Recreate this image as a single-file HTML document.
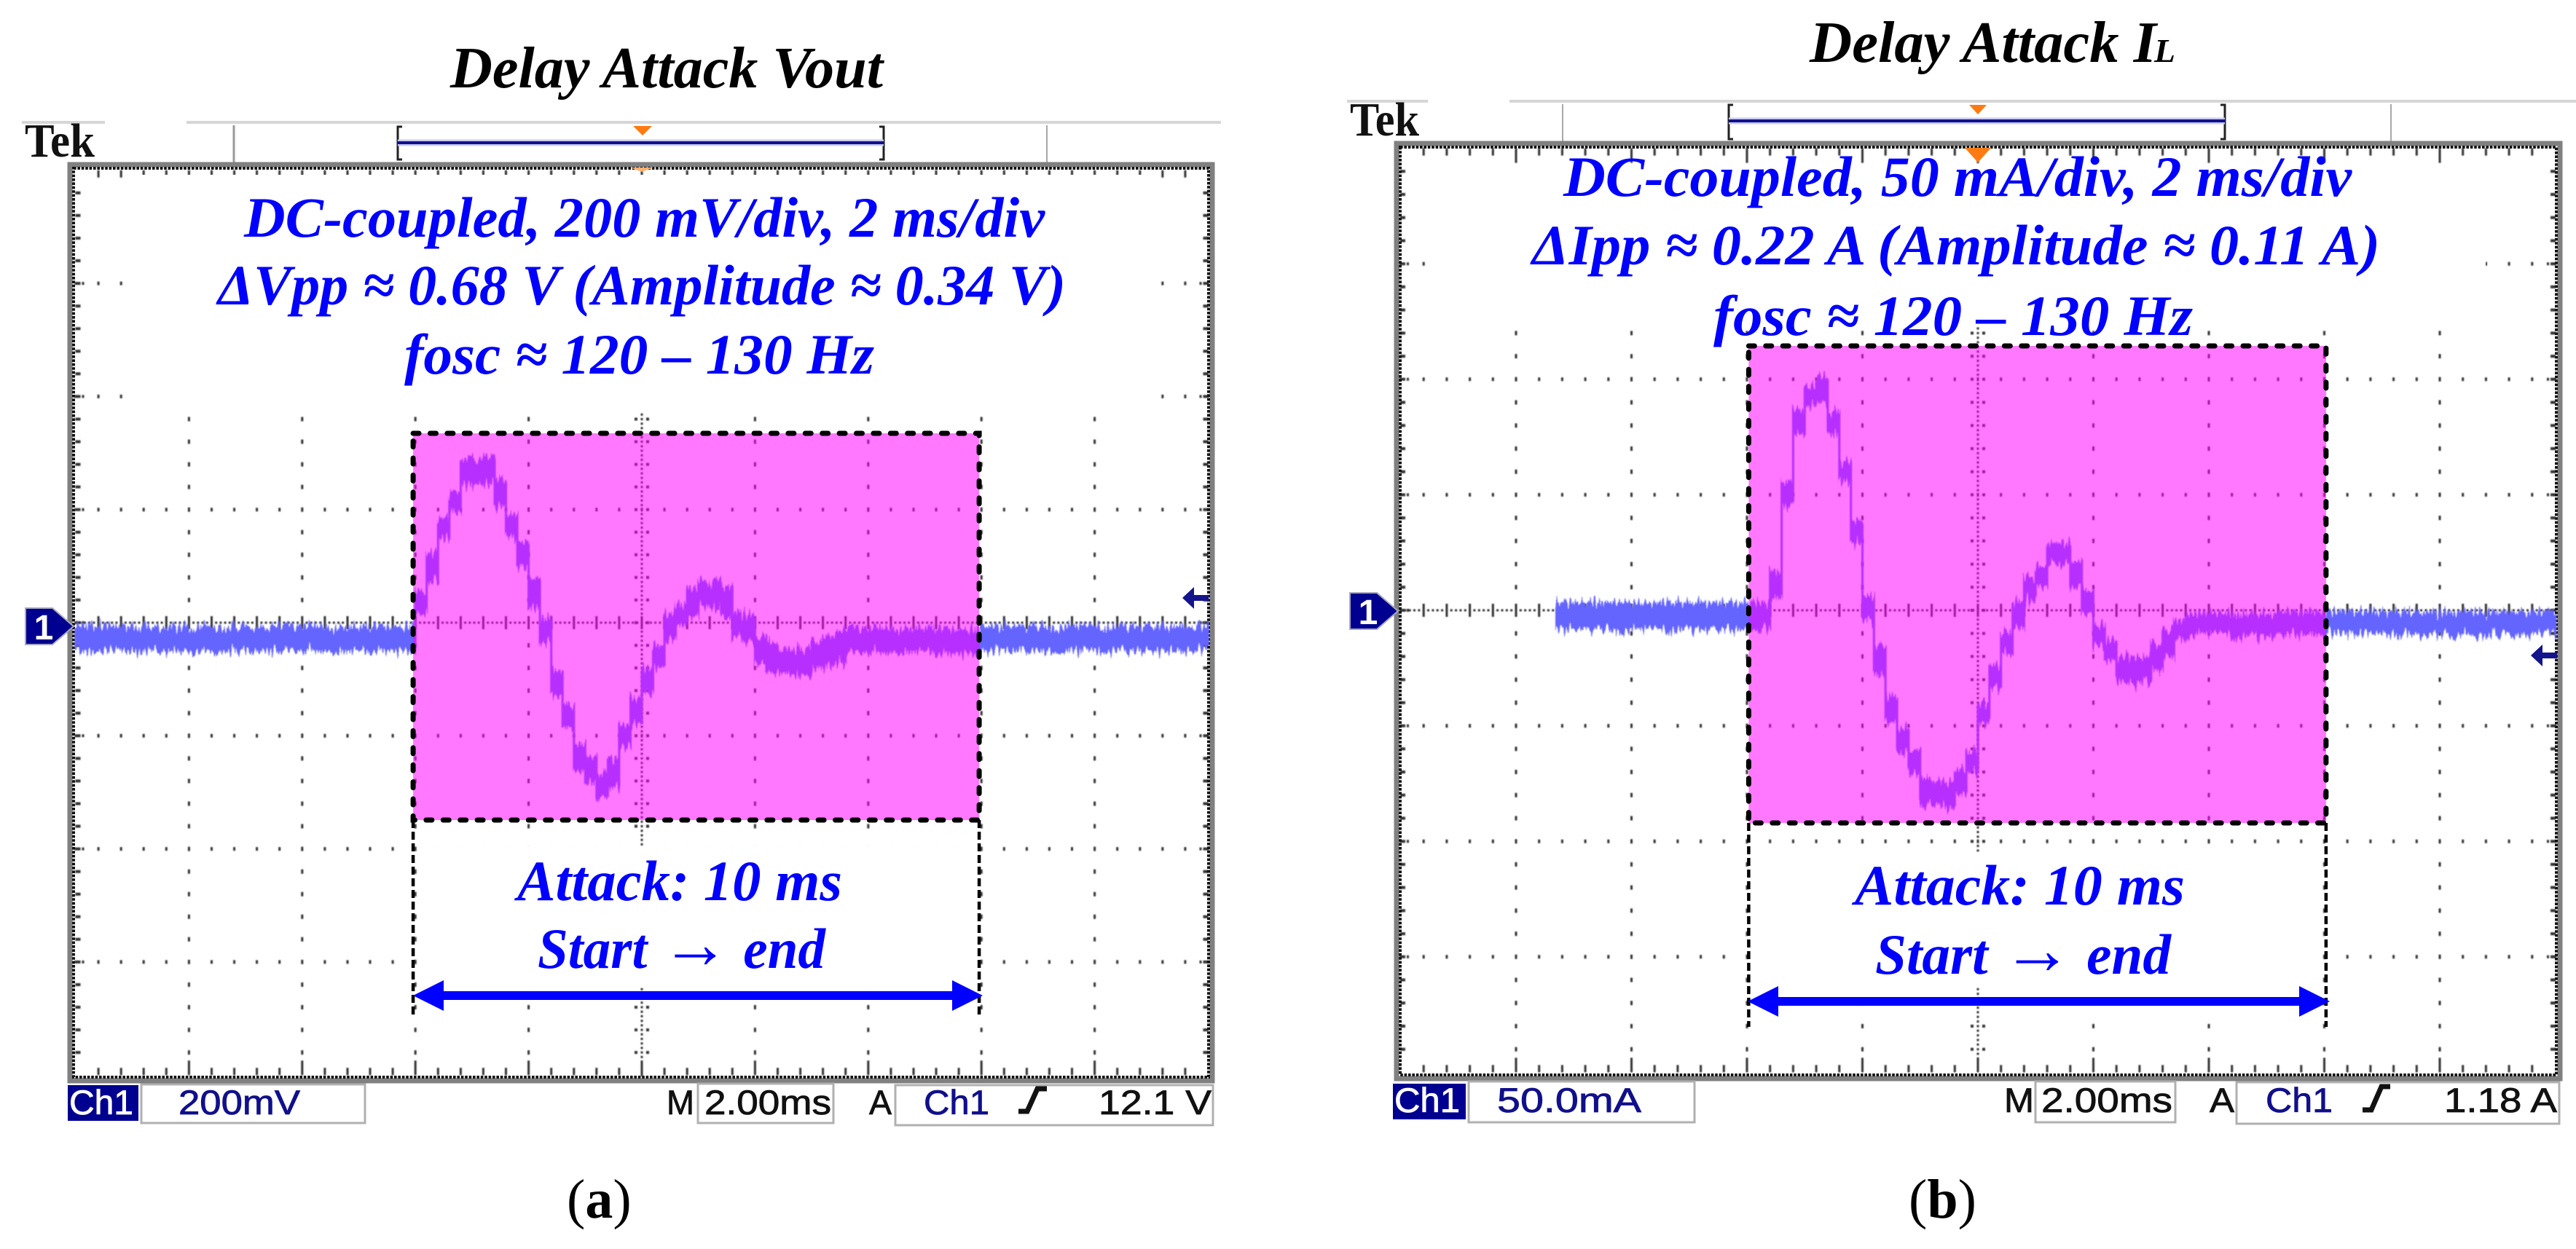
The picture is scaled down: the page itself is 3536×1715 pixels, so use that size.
<!DOCTYPE html>
<html lang="en">
<head>
<meta charset="utf-8">
<title>Delay Attack oscilloscope captures</title>
<style>
html,body{margin:0;padding:0;background:#fff;width:3536px;height:1715px;overflow:hidden}
svg{display:block}
.ann{font-family:"Liberation Serif",serif;font-weight:bold;font-style:italic;font-size:78px;fill:#0000ff}
.ttl{font-family:"Liberation Serif",serif;font-weight:bold;font-style:italic;font-size:80px;fill:#000}
.cap{font-family:"Liberation Serif",serif;font-size:76px;fill:#000}
.tek{font-family:"Liberation Serif",serif;font-weight:bold;font-size:66px;fill:#111}
.st{font-family:"Liberation Sans",sans-serif;font-size:47px;fill:#111;stroke:#111;stroke-width:.8px}
.nv{fill:#10108c;stroke:#10108c}
.wh{fill:#fff;stroke:#fff}
</style>
</head>
<body>
<svg id="root" xmlns="http://www.w3.org/2000/svg" width="3536" height="1715" viewBox="0 0 3536 1715">
<defs>
<filter id="fuzz" filterUnits="userSpaceOnUse" x="0" y="500" width="3536" height="800" color-interpolation-filters="sRGB">
<feTurbulence type="fractalNoise" baseFrequency="0.33 0.012" numOctaves="2" seed="4" result="n"/>
<feColorMatrix in="n" type="matrix" values="1 0 0 0 0  0 0 0 0 0.5  0 0 0 0 0.5  0 0 0 0 1" result="m"/>
<feDisplacementMap in="SourceGraphic" in2="m" scale="34" xChannelSelector="G" yChannelSelector="R" result="d"/>
<feGaussianBlur in="d" stdDeviation="0.8"/>
</filter>
<filter id="soft" filterUnits="userSpaceOnUse" x="0" y="0" width="3536" height="1715"><feGaussianBlur stdDeviation="0.7"/></filter>
</defs>
<rect width="3536" height="1715" fill="#fff"/>

<g id="panelA">
  <text class="ttl" x="618" y="120" textLength="594" lengthAdjust="spacingAndGlyphs">Delay Attack Vout</text>
  <g>
    <path d="M30 168H144M256 168H1676" stroke="#d6d6d6" stroke-width="4" fill="none"/>
    <path d="M321 172V224" stroke="#9a9a9a" stroke-width="3" fill="none"/>
    <path d="M1437 172V224" stroke="#a8a8a8" stroke-width="2" fill="none"/>
    <path d="M552 174H546V219H552M1207 174H1213V219H1207" stroke="#222" stroke-width="3" fill="none"/>
    <path d="M546 196H1213" stroke="#c8c8f0" stroke-width="9" fill="none"/>
    <path d="M546 196H1213" stroke="#10108c" stroke-width="4" fill="none"/>
    <polygon points="869,173 895,173 882,186" fill="#ff7a10"/>
    <text class="tek" x="34" y="215" textLength="96" lengthAdjust="spacingAndGlyphs">Tek</text>
  </g>
  <g id="plotA"></g>
  <polygon points="865,230 897,230 881,236" fill="#ffb070"/>
  <g>
    <text class="ann" x="335" y="325" textLength="1099" lengthAdjust="spacingAndGlyphs">DC-coupled, 200 mV/div, 2 ms/div</text>
    <text class="ann" x="299" y="418" textLength="1164" lengthAdjust="spacingAndGlyphs">ΔVpp ≈ 0.68 V (Amplitude ≈ 0.34 V)</text>
    <text class="ann" x="555" y="513" textLength="645" lengthAdjust="spacingAndGlyphs">fosc ≈ 120 – 130 Hz</text>
    <text class="ann" x="710" y="1236" textLength="446" lengthAdjust="spacingAndGlyphs">Attack: 10 ms</text>
    <text class="ann" x="738" y="1329" textLength="395" lengthAdjust="spacingAndGlyphs">Start <tspan font-size="98">→</tspan> end</text>
  </g>
  <polygon fill="#0000ff" points="567,1367 609,1346 609,1361 1307,1361 1307,1346 1349,1367 1307,1388 1307,1373 609,1373 609,1388"/>
  <g>
    <rect x="93" y="1490" width="97" height="49" fill="#000090"/>
    <text class="st wh" x="95" y="1530" textLength="88" lengthAdjust="spacingAndGlyphs">Ch1</text>
    <rect x="194" y="1489" width="307" height="53" fill="#fff" stroke="#b0b0b0" stroke-width="3"/>
    <text class="st nv" x="245" y="1530" textLength="167" lengthAdjust="spacingAndGlyphs">200mV</text>
    <text class="st" x="915" y="1530" textLength="38" lengthAdjust="spacingAndGlyphs">M</text>
    <rect x="958" y="1488" width="186" height="54" fill="#fff" stroke="#b0b0b0" stroke-width="3"/>
    <text class="st" x="967" y="1530" textLength="174" lengthAdjust="spacingAndGlyphs">2.00ms</text>
    <text class="st" x="1193" y="1530" textLength="31" lengthAdjust="spacingAndGlyphs">A</text>
    <rect x="1229" y="1490" width="436" height="55" fill="#fff" stroke="#b0b0b0" stroke-width="3"/>
    <text class="st nv" x="1268" y="1530" textLength="90" lengthAdjust="spacingAndGlyphs">Ch1</text>
    <path d="M1398 1526H1410L1424 1495H1437" stroke="#111" stroke-width="7" fill="none"/>
    <text class="st" x="1508" y="1530" textLength="155" lengthAdjust="spacingAndGlyphs">12.1 V</text>
  </g>
  <text class="cap" x="778" y="1672">(<tspan font-weight="bold">a</tspan>)</text>
</g>

<g id="panelB">
  <text class="ttl" x="2484" y="85" textLength="476" lengthAdjust="spacingAndGlyphs">Delay Attack I</text>
  <text class="ttl" x="2957" y="85" textLength="29" lengthAdjust="spacingAndGlyphs" style="font-size:46px">L</text>
  <g>
    <path d="M1849 139H1960M2072 139H3536" stroke="#d6d6d6" stroke-width="4" fill="none"/>
    <path d="M2145 143V195M3282 143V195" stroke="#a8a8a8" stroke-width="2" fill="none"/>
    <path d="M2379 144H2373V191H2379M3048 144H3054V191H3048" stroke="#222" stroke-width="3" fill="none"/>
    <path d="M2373 166H3054" stroke="#c8c8f0" stroke-width="9" fill="none"/>
    <path d="M2373 166H3054" stroke="#10108c" stroke-width="4" fill="none"/>
    <polygon points="2703,144 2727,144 2715,157" fill="#ff7a10"/>
    <text class="tek" x="1853" y="186" textLength="95" lengthAdjust="spacingAndGlyphs">Tek</text>
  </g>
  <g id="plotB"></g>
  <polygon points="2697,203 2733,203 2715,223" fill="#ff7a10"/>
  <g>
    <text class="ann" x="2146" y="269" textLength="1082" lengthAdjust="spacingAndGlyphs">DC-coupled, 50 mA/div, 2 ms/div</text>
    <text class="ann" x="2103" y="363" textLength="1164" lengthAdjust="spacingAndGlyphs">ΔIpp ≈ 0.22 A (Amplitude ≈ 0.11 A)</text>
    <text class="ann" x="2352" y="460" textLength="658" lengthAdjust="spacingAndGlyphs">fosc ≈ 120 – 130 Hz</text>
    <text class="ann" x="2546" y="1242" textLength="453" lengthAdjust="spacingAndGlyphs">Attack: 10 ms</text>
    <text class="ann" x="2574" y="1337" textLength="406" lengthAdjust="spacingAndGlyphs">Start <tspan font-size="98">→</tspan> end</text>
  </g>
  <polygon fill="#0000ff" points="2399,1375 2441,1354 2441,1369 3156,1369 3156,1354 3198,1375 3156,1396 3156,1381 2441,1381 2441,1396"/>
  <g>
    <rect x="1912" y="1488" width="100" height="49" fill="#000090"/>
    <text class="st wh" x="1914" y="1527" textLength="90" lengthAdjust="spacingAndGlyphs">Ch1</text>
    <rect x="2016" y="1485" width="310" height="56" fill="#fff" stroke="#b0b0b0" stroke-width="3"/>
    <text class="st nv" x="2055" y="1527" textLength="198" lengthAdjust="spacingAndGlyphs">50.0mA</text>
    <text class="st" x="2751" y="1527" textLength="41" lengthAdjust="spacingAndGlyphs">M</text>
    <rect x="2794" y="1485" width="192" height="56" fill="#fff" stroke="#b0b0b0" stroke-width="3"/>
    <text class="st" x="2802" y="1527" textLength="180" lengthAdjust="spacingAndGlyphs">2.00ms</text>
    <text class="st" x="3033" y="1527" textLength="34" lengthAdjust="spacingAndGlyphs">A</text>
    <rect x="3070" y="1486" width="443" height="57" fill="#fff" stroke="#b0b0b0" stroke-width="3"/>
    <text class="st nv" x="3110" y="1527" textLength="92" lengthAdjust="spacingAndGlyphs">Ch1</text>
    <path d="M3243 1524H3255L3269 1492H3281" stroke="#111" stroke-width="7" fill="none"/>
    <text class="st" x="3355" y="1527" textLength="155" lengthAdjust="spacingAndGlyphs">1.18 A</text>
  </g>
  <text class="cap" x="2620" y="1672">(<tspan font-weight="bold">b</tspan>)</text>
</g>
</svg>

<script>
// Step edges of the Vout trace, in ms relative to screen centre
const voutTimesMs = [-10,-4.0,-3.8,-3.6,-3.4,-3.2,-3.0,-2.8,-2.6,-2.4,-2.2,-2.0,-1.8,-1.6,-1.4,-1.2,-1.0,-0.8,-0.6,-0.4,-0.2,0,0.2,0.4,0.6,0.8,1.0,1.2,1.4,1.6,1.8,2.0,2.2,2.4,2.6,2.8,3.0,3.2,3.4,3.6,4.4,5.2,6.0,10];
// Upper and lower envelope of the Vout trace, mV relative to the channel 1 marker
const voutUpperMv = [-8,54,123,183,229,289,287,291,252,188,142,73,8,-86,-146,-217,-236,-270,-243,-183,-132,-82,-40,13,31,59,73,70,61,17,13,-22,-38,-45,-49,-49,-33,-24,-19,-12,-10,-13,-8];
const voutLowerMv = [-49,17,75,151,197,245,246,247,206,151,100,27,-31,-125,-183,-261,-282,-307,-289,-219,-176,-123,-77,-31,-3,13,31,27,13,-24,-33,-70,-86,-88,-91,-91,-79,-75,-70,-52,-50,-54,-49];
// Step edges of the inductor current trace, ms
const ilTimesMs = [-7.3,-4.0,-3.8,-3.6,-3.4,-3.2,-3.0,-2.8,-2.6,-2.4,-2.2,-2.0,-1.8,-1.6,-1.4,-1.2,-1.0,-0.8,-0.6,-0.4,-0.2,0,0.2,0.4,0.6,0.8,1.0,1.2,1.4,1.6,1.8,2.0,2.2,2.4,2.6,2.8,3.0,3.2,3.4,3.6,4.4,5.2,6.0,10];
// Upper and lower envelope of the inductor current trace, mA relative to the marker
const ilUpperMa = [3,2.7,2.7,17.4,55.4,86.0,96.5,101.2,85.4,64.6,37.9,5.5,-15.6,-38.1,-51.5,-60.7,-73.3,-74.0,-74.7,-69.1,-61.4,-40.3,-24.1,-10.7,3.4,13.2,18.9,28.7,28.7,21.0,8.3,-6.5,-13.5,-20.6,-21.3,-20.6,-14.9,-9.3,-4.4,-1.6,-2,-1,-0.9];
const ilLowerMa = [-8,-7.9,-7.9,6.2,45.2,76.6,88.5,89.9,76.6,56.2,29.4,-3.7,-26.9,-48.0,-60.7,-70.5,-83.9,-84.6,-85.3,-78.9,-69.8,-48.7,-33.9,-19.1,-7.2,4.1,10.4,20.3,20.3,10.4,-0.8,-14.9,-21.3,-30.4,-31.1,-29.7,-25.5,-19.9,-11.4,-10,-11,-10,-10];

const NS = 'http://www.w3.org/2000/svg';
function mk(tag, attrs, parent){
  const e = document.createElementNS(NS, tag);
  for (const k in attrs) e.setAttribute(k, attrs[k]);
  parent.appendChild(e);
  return e;
}

function buildScreen(p){
  const host = document.getElementById(p.host);
  const xOf = t => p.cx + t * p.divX / p.msPerDiv;
  const yOf = v => p.cy - v * p.divY / p.unitsPerDiv;
  const subX = p.divX / 5, subY = p.divY / 5;
  const L = p.cx - 5 * p.divX, R = p.cx + 5 * p.divX, T = p.cy - 4 * p.divY, B = p.cy + 4 * p.divY;

  // graticule
  let d = '';
  const dot = (x, y, w, h) => { d += 'M' + (x - w / 2).toFixed(1) + ' ' + (y - h / 2).toFixed(1) + 'h' + w + 'v' + h + 'h' + (-w) + 'z'; };
  for (let i = -4; i <= 4; i++) { if (i) for (let j = -19; j <= 19; j++) dot(p.cx + i * p.divX, p.cy + j * subY, 3, 6); }
  for (let j = -3; j <= 3; j++) { if (j) for (let i = -24; i <= 24; i++) dot(p.cx + i * subX, p.cy + j * p.divY, 3, 5); }
  for (let y = T; y <= B; y += subY / 5) dot(p.cx, y, 3, 3);
  for (let j = -19; j <= 19; j++) { dot(p.cx - 8, p.cy + j * subY, 4, 4); dot(p.cx + 8, p.cy + j * subY, 4, 4); }
  for (let x = L; x <= R; x += subX / 5) dot(x, p.cy, 3, 3);
  for (let i = -24; i <= 24; i++) dot(p.cx + i * subX, p.cy, 3, 18);
  for (let i = -24; i <= 24; i++) {
    const big = i % 5 === 0;
    dot(p.cx + i * subX, B - (big ? 10 : 5), 3, big ? 20 : 10);
    dot(p.cx + i * subX, T + (big ? 10 : 5), 3, big ? 20 : 10);
  }
  for (let j = -19; j <= 19; j++) { dot(L + 3, p.cy + j * subY, 7, 4); dot(R - 3, p.cy + j * subY, 7, 4); }
  for (let j = -3; j <= 3; j++) for (let k = 0; k < 3; k++) { dot(L + k * 5, p.cy + j * p.divY, 3, 4); dot(R - k * 5, p.cy + j * p.divY, 3, 4); }

  const grid = mk('path', {d: d, fill: '#333', filter: 'url(#soft)'}, host);
  
  

  // bezel
  const bezel = mk('rect', {x: p.fx0, y: p.fy0, width: p.fx1 - p.fx0, height: p.fy1 - p.fy0, fill: 'none', stroke: '#808080', 'stroke-width': 7}, host);
  
  
  const dots = mk('rect', {x: p.fx0 + 5, y: p.fy0 + 5, width: p.fx1 - p.fx0 - 10, height: p.fy1 - p.fy0 - 10, fill: 'none', stroke: '#111', 'stroke-width': 4, 'stroke-dasharray': '3.6 1.8'}, host);
  
  

  // trace: step-wise band between the two envelopes
  const n = p.upper.length;
  let tp = '';
  for (let i = 0; i < n; i++) tp += (i ? 'L' : 'M') + xOf(p.times[i]).toFixed(1) + ' ' + yOf(p.upper[i]).toFixed(1) + 'L' + xOf(p.times[i + 1]).toFixed(1) + ' ' + yOf(p.upper[i]).toFixed(1);
  for (let i = n - 1; i >= 0; i--) tp += 'L' + xOf(p.times[i + 1]).toFixed(1) + ' ' + yOf(p.lower[i]).toFixed(1) + 'L' + xOf(p.times[i]).toFixed(1) + ' ' + yOf(p.lower[i]).toFixed(1);
  const trace = mk('path', {d: tp + 'Z', fill: '#6464ff', stroke: '#6464ff', 'stroke-width': 3, filter: 'url(#fuzz)'}, host);
  
  

  // white patches behind the annotations
  for (const b of p.masks) {
    const m = mk('rect', {x: b[0], y: b[1], width: b[2], height: b[3], fill: '#fff'}, host);
    
    
  }

  // attack window: spans 10 ms starting at attackStart
  const x0 = xOf(p.attackStart), x1 = xOf(p.attackStart + 10);
  const win = mk('rect', {x: x0, y: p.winTop, width: x1 - x0, height: p.winBottom - p.winTop, fill: '#ff00ff', 'fill-opacity': 0.53}, host);
  
  
  const outline = mk('rect', {x: x0, y: p.winTop, width: x1 - x0, height: p.winBottom - p.winTop, fill: 'none', stroke: '#000', 'stroke-width': 7, 'stroke-dasharray': '8 15.4', 'stroke-linecap': 'round'}, host);
  
  
  const drop = mk('path', {d: 'M' + x0 + ' ' + p.winBottom + 'V' + p.dropTo + 'M' + x1 + ' ' + p.winBottom + 'V' + p.dropTo, fill: 'none', stroke: '#000', 'stroke-width': 4.5, 'stroke-dasharray': '11 5'}, host);
  
  

  // channel ground marker
  const my = p.markerY, mx = p.markerX;
  const mark = mk('polygon', {points: mx + ',' + (my - 25) + ' ' + (mx + 37) + ',' + (my - 25) + ' ' + (mx + 66) + ',' + my + ' ' + (mx + 37) + ',' + (my + 25) + ' ' + mx + ',' + (my + 25), fill: '#000090', stroke: '#a8a8c0', 'stroke-width': 2}, host);
  
  
  const one = mk('text', {x: mx + 25, y: my + 18, 'text-anchor': 'middle', 'font-family': '"Liberation Sans",sans-serif', 'font-weight': 'bold', 'font-size': 48, fill: '#fff'}, host);
  one.textContent = '1';
  
  

  // trigger level arrow
  const ax = p.trigX, ay = p.trigY;
  const trig = mk('path', {d: 'M' + ax + ' ' + ay + 'l16 -15v11h20v8h-20v11z', fill: '#14148c'}, host);
  
  
}

buildScreen({
  host: 'plotA', times: voutTimesMs, upper: voutUpperMv, lower: voutLowerMv, traceName: 'vout-trace',
  msPerDiv: 2, unitsPerDiv: 200, cx: 881, cy: 855, divX: 155.4, divY: 155.3,
  fx0: 96, fy0: 226, fx1: 1664, fy1: 1484,
  masks: [[170, 240, 1420, 326], [575, 1162, 764, 194]],
  attackStart: -4.04, winTop: 595, winBottom: 1126, dropTo: 1398,
  markerX: 35, markerY: 860, trigX: 1623, trigY: 821
});
buildScreen({
  host: 'plotB', times: ilTimesMs, upper: ilUpperMa, lower: ilLowerMa, traceName: 'inductor-current-trace',
  msPerDiv: 2, unitsPerDiv: 50, cx: 2715, cy: 838, divX: 158.5, divY: 158.6,
  fx0: 1917, fy0: 197, fx1: 3514, fy1: 1481,
  masks: [[1957, 226, 1455, 222], [2408, 1170, 776, 186]],
  attackStart: -3.97, winTop: 475, winBottom: 1130, dropTo: 1410,
  markerX: 1853, markerY: 839, trigX: 3474, trigY: 900
});
</script>
</body>
</html>
